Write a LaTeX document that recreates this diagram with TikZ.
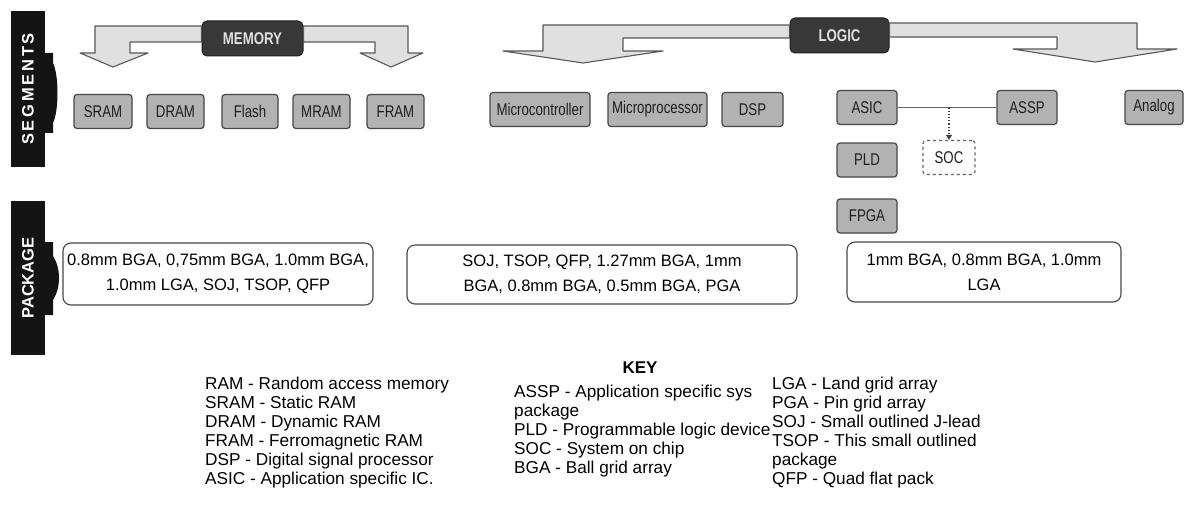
\documentclass[tikz,border=0pt]{standalone}
\usepackage{fontspec}
\setmainfont{Liberation Sans}
\newfontfamily\narrowf[FakeStretch=0.78]{Liberation Sans}
\usetikzlibrary{arrows.meta}
\tikzset{
  sidebar/.style={fill=black!92, draw=none, text=white, rotate=90, inner sep=0,
    font=\fontsize{16.5}{16.5}\selectfont\bfseries},
  banner/.style={fill=black!78, draw=black!88, line width=1pt, rounded corners=5pt,
    text=black!12, font=\narrowf\fontsize{17}{17}\selectfont\bfseries,
    minimum height=35, inner sep=0},
  blockarrow/.style={fill=black!12, draw=black!65, line width=1.1pt, line join=round},
  segbox/.style={fill=black!30, draw=black!72, line width=1.2pt, rounded corners=3pt,
    font=\narrowf\fontsize{17}{17}\selectfont, text=black!88, minimum height=34, inner sep=0},
  socbox/.style={segbox, fill=white, draw=black!60, dashed},
  pkgbox/.style={draw=black!72, line width=1.1pt, rounded corners=8pt, fill=white,
    align=center, font=\fontsize{16.5}{25}\selectfont, inner sep=0},
  keytext/.style={align=left, font=\fontsize{17.2}{19}\selectfont, inner sep=0,
    anchor=north west},
  link/.style={draw=black!60, line width=1pt},
  dotlink/.style={draw=black!75, line width=1.2pt, dotted, -{Triangle[length=5pt,width=6pt]}}
}
\begin{document}
\begin{tikzpicture}[x=1pt,y=-1pt]
\useasboundingbox[fill=white] (0,0) rectangle (1188,508);

% side bars
\fill[black!92] (45,53) -- (53,53) -- (53,63) .. controls (59,75) and (59,111) .. (53,123) -- (53,133) -- (45,133) -- cycle;
\node[sidebar, minimum width=156, minimum height=34] (seg) at (28,89) {S\,E\,G\,M\,E\,N\,T\,S};
\fill[black!92] (45,242) -- (53,242) -- (53,256) .. controls (61,268) and (61,288) .. (53,300) -- (53,315) -- (45,315) -- cycle;
\node[sidebar, minimum width=154, minimum height=34] (pkg) at (28,278) {PACKAGE};

% banners
\node[banner, minimum width=101] (mem) at (252.5,38.5) {MEMORY};
\node[banner, minimum width=99] (logic) at (839.5,35.5) {LOGIC};

% block arrows
\path[blockarrow] (mem.west |- 0,26) -- (95,26) -- (95,53) -- (80,53) -- (113,67) -- (148,53)
  -- (130,53) -- (130,42) -- (mem.west |- 0,42) -- cycle;
\path[blockarrow] (mem.east |- 0,26) -- (408,26) -- (408,53) -- (423,53) -- (391,67) -- (360,53)
  -- (375,53) -- (375,42) -- (mem.east |- 0,42) -- cycle;
\path[blockarrow] (logic.west |- 0,25) -- (543,25) -- (543,51) -- (503,51) -- (583,63) -- (663,51)
  -- (623,51) -- (623,38) -- (logic.west |- 0,38) -- cycle;
\path[blockarrow] (logic.east |- 0,23) -- (1137,23) -- (1137,49) -- (1177,49) -- (1095,62) -- (1013,49)
  -- (1057,49) -- (1057,37) -- (logic.east |- 0,37) -- cycle;

% memory segments
\node[segbox, minimum width=58] (sram) at (103,111.5) {SRAM};
\node[segbox, minimum width=57] (dram) at (175.5,111.5) {DRAM};
\node[segbox, minimum width=56] (flash) at (250,111.5) {Flash};
\node[segbox, minimum width=57] (mram) at (321.5,111.5) {MRAM};
\node[segbox, minimum width=57] (fram) at (395.5,111.5) {FRAM};

% logic segments
\node[segbox, minimum width=100] (mcu) at (540,109.5) {Microcontroller};
\node[segbox, minimum width=99] (mpu) at (657.5,109.5) {Microprocessor};
\node[segbox, minimum width=61] (dsp) at (752.5,109.5) {DSP};
\node[segbox, minimum width=60] (asic) at (867,107.5) {ASIC};
\node[segbox, minimum width=60] (assp) at (1027,107.5) {ASSP};
\node[segbox, minimum width=58] (analog) at (1154,107.5) {Analog};
\node[segbox, minimum width=60] (pld) at (867,160) {PLD};
\node[segbox, minimum width=60] (fpga) at (867,216) {FPGA};
\node[socbox, minimum width=52] (soc) at (949,157.5) {SOC};

\draw[link] (asic) -- (assp);
\coordinate (j) at (soc.north |- asic.east);
\draw[dotlink] (j) -- (soc.north);

% package boxes
\node[pkgbox, minimum width=310, minimum height=62] (p1) at (218,274)
  {0.8mm BGA, 0,75mm BGA, 1.0mm BGA,\\1.0mm LGA, SOJ, TSOP, QFP};
\node[pkgbox, minimum width=390, minimum height=59] (p2) at (602,274.5)
  {SOJ, TSOP, QFP, 1.27mm BGA, 1mm\\BGA, 0.8mm BGA, 0.5mm BGA, PGA};
\node[pkgbox, minimum width=274, minimum height=60] (p3) at (984,272)
  {1mm BGA, 0.8mm BGA, 1.0mm\\LGA};

% key
\node[font=\fontsize{17}{17}\selectfont\bfseries, inner sep=0, anchor=base] (key) at (640,373) {KEY};
\node[keytext] (k1) at (205,377) {RAM - Random access memory\\SRAM - Static RAM\\DRAM - Dynamic RAM\\FRAM - Ferromagnetic RAM\\DSP - Digital signal processor\\ASIC - Application specific IC.};
\node[keytext] (k2) at (514,385) {ASSP - Application specific sys\\package\\PLD - Programmable logic device\\SOC - System on chip\\BGA - Ball grid array};
\node[keytext] (k3) at (772,377) {LGA - Land grid array\\PGA - Pin grid array\\SOJ - Small outlined J-lead\\TSOP - This small outlined\\package\\QFP - Quad flat pack};
\end{tikzpicture}
\end{document}
